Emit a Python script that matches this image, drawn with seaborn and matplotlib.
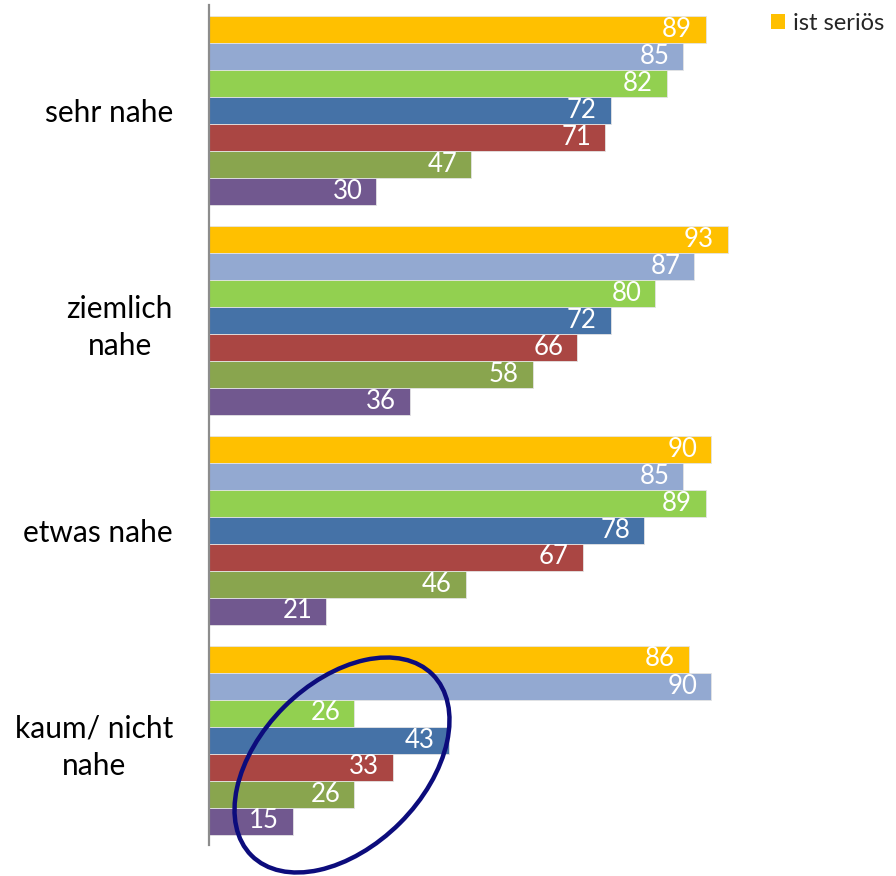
import matplotlib
matplotlib.use("Agg")
import matplotlib.pyplot as plt
from matplotlib.patches import Ellipse, Patch
import seaborn as sns
import pandas as pd

categories = ["sehr nahe", "ziemlich\nnahe", "etwas nahe", "kaum/ nicht\nnahe"]
series = ["ist seriös", "Serie 2", "Serie 3", "Serie 4", "Serie 5", "Serie 6", "Serie 7"]
values = {
    "ist seriös": [89, 93, 90, 86],
    "Serie 2": [85, 87, 85, 90],
    "Serie 3": [82, 80, 89, 26],
    "Serie 4": [72, 72, 78, 43],
    "Serie 5": [71, 66, 67, 33],
    "Serie 6": [47, 58, 46, 26],
    "Serie 7": [30, 36, 21, 15],
}
colors = ["#FFC000", "#93A9D1", "#92D050", "#4572A7", "#AA4643", "#89A54E", "#71588F"]

rows = []
for s in series:
    for c, v in zip(categories, values[s]):
        rows.append({"cat": c, "series": s, "value": v})
df = pd.DataFrame(rows)

sns.set_style("white")
plt.rcParams['font.family'] = ['Lato', 'DejaVu Sans']

fig = plt.figure(figsize=(8.96, 8.76), dpi=100)
ax = fig.add_axes([209/896, 31/876, 558/896, 840/876])

sns.barplot(data=df, x="value", y="cat", hue="series", order=categories,
            hue_order=series, palette=colors, saturation=1, orient="h",
            width=0.9, gap=0, edgecolor="#e4e4e4", linewidth=0.6, ax=ax,
            legend=False)

ax.set_xlim(0, 100)
ax.set_xlabel("")
ax.set_ylabel("")
ax.set_xticks([])
for sp in ["top", "right", "bottom"]:
    ax.spines[sp].set_visible(False)
ax.spines["left"].set_color("#8c8c8c")
ax.spines["left"].set_linewidth(1.6)
ax.tick_params(axis="y", length=0, pad=26)
for t in ax.get_yticklabels():
    t.set_fontsize(21.5)
    t.set_multialignment("center")
    t.set_linespacing(1.4)
    t.set_color("black")

for cont in ax.containers:
    texts = ax.bar_label(cont, padding=-10, color="white", fontsize=18.5)
    for t in texts:
        t.set_ha("right")

handles = [Patch(facecolor=colors[0], edgecolor="none", label=series[0])]
fig.legend(handles=handles, loc="upper left", bbox_to_anchor=(771/896, 1 - 13/876),
           frameon=False, fontsize=17, handlelength=0.6, handleheight=0.6,
           handletextpad=0.35, borderpad=0, borderaxespad=0)

ell = Ellipse((3.42, (876 - 765) / 100), 2.56, 1.64, angle=45,
              transform=fig.dpi_scale_trans, fill=False, edgecolor="#0c0c7c",
              linewidth=3.2)
fig.add_artist(ell)

fig.savefig("out.png", dpi=100)
